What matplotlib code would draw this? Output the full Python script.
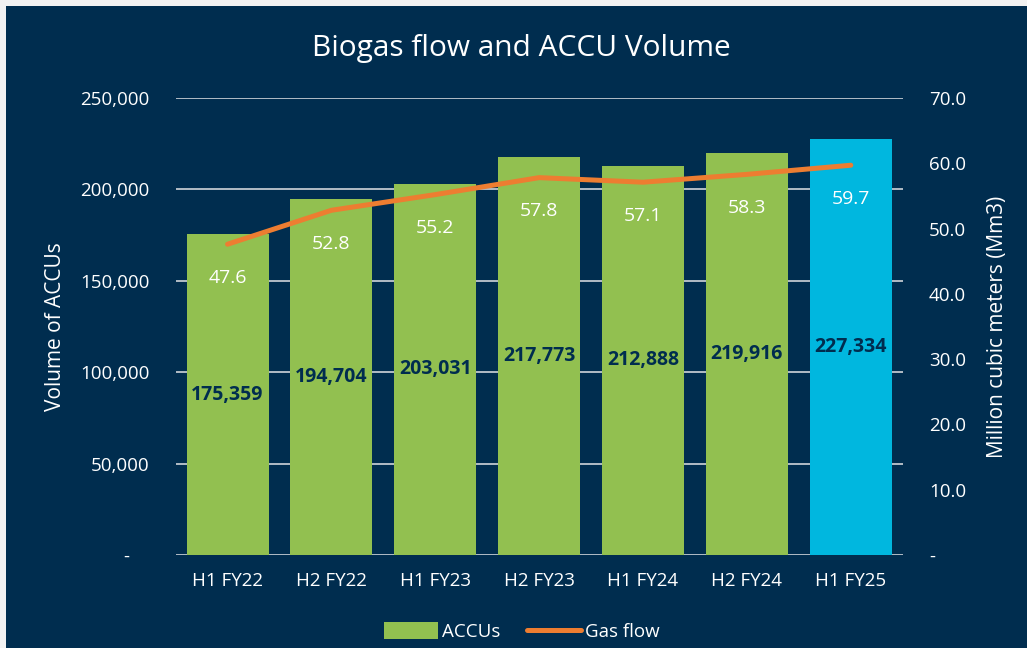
import matplotlib
matplotlib.use('Agg')
import matplotlib.pyplot as plt
from matplotlib.patches import Rectangle, Patch
from matplotlib.lines import Line2D
from matplotlib.ticker import FuncFormatter

periods = ["H1 FY22", "H2 FY22", "H1 FY23", "H2 FY23", "H1 FY24", "H2 FY24", "H1 FY25"]
accus = [175359, 194704, 203031, 217773, 212888, 219916, 227334]
gas_flow = [47.6, 52.8, 55.2, 57.8, 57.1, 58.3, 59.7]

navy = '#002D4F'
green = '#92C050'
blue = '#00B7DF'
orange = '#ED7D31'
grid_c = '#D0D5DA'

plt.rcParams['font.family'] = ['Open Sans', 'DejaVu Sans']

fig = plt.figure(figsize=(10.27, 6.48), dpi=100)
fig.patch.set_facecolor('#F2F2F2')
fig.patches.append(Rectangle((6 / 1027, 0), 1, 1 - 6 / 648, transform=fig.transFigure,
                             facecolor=navy, edgecolor='none', zorder=-10))

ax = fig.add_axes([0.171, 0.1435, 0.708, 0.7053])
ax.set_facecolor('none')
x = range(len(periods))
colors = [green] * (len(periods) - 1) + [blue]
ax.bar(x, accus, width=0.79, color=colors, zorder=2)
ax.set_xlim(-0.5, len(periods) - 0.5)
ax.set_ylim(0, 250000)
ax.set_yticks(range(0, 250001, 50000))
ax.yaxis.set_major_formatter(FuncFormatter(lambda v, p: '-    ' if v == 0 else f'{int(v):,}'))
ax.grid(axis='y', color=grid_c, linewidth=1.2, zorder=1)
ax.set_axisbelow(True)
for s in ax.spines.values():
    s.set_visible(False)
ax.tick_params(axis='both', length=0, colors='white', labelsize=13.5)
ax.tick_params(axis='y', pad=19)
ax.tick_params(axis='x', pad=12)
ax.set_xticks(list(x))
ax.set_xticklabels(periods)
ax.set_ylabel('Volume of ACCUs', color='white', fontsize=15, labelpad=10)

for i, v in enumerate(accus):
    ax.text(i, v / 2, f'{v:,}', ha='center', va='center', color=navy,
            fontsize=14, fontweight='bold', zorder=4)

ax2 = ax.twinx()
ax2.set_ylim(0, 70)
ax2.set_yticks(range(0, 71, 10))
ax2.yaxis.set_major_formatter(FuncFormatter(lambda v, p: '-' if v == 0 else f'{v:.1f}'))
for s in ax2.spines.values():
    s.set_visible(False)
ax2.tick_params(axis='y', length=0, colors='white', labelsize=13.5, pad=19)
ax2.set_ylabel('Million cubic meters (Mm3)', color='white', fontsize=15, labelpad=15)
ax2.plot(list(x), gas_flow, color=orange, linewidth=3.6, solid_capstyle='round', zorder=3)
for i, v in enumerate(gas_flow):
    ax2.annotate(f'{v:.1f}', (i, v), xytext=(0, -24), textcoords='offset points',
                 ha='center', va='center', color='white', fontsize=14)

fig.text(0.508, 0.925, 'Biogas flow and ACCU Volume', ha='center', va='center',
         color='white', fontsize=21.5)

handles = [Patch(facecolor=green, edgecolor='none'),
           Line2D([0], [0], color=orange, linewidth=3.6, solid_capstyle='round')]
leg = fig.legend(handles, ['ACCUs', 'Gas flow'], loc='center', bbox_to_anchor=(0.508, 0.025),
                 ncol=2, frameon=False, fontsize=13.5, labelcolor='white',
                 handlelength=2.9, handletextpad=0.2, columnspacing=1.4, handleheight=1.0)

fig.savefig('out.png', dpi=100, facecolor=fig.get_facecolor())
plt.close(fig)
